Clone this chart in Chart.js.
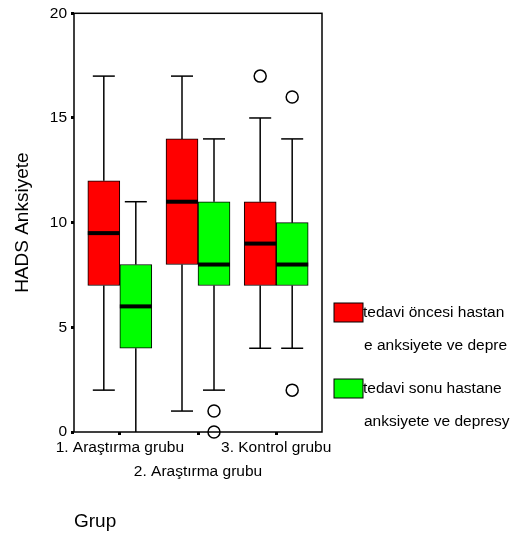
<!DOCTYPE html>
<html>
<head>
<meta charset="utf-8">
<script src="https://cdn.jsdelivr.net/npm/chart.js@4"></script>
<style>
  html, body { margin: 0; padding: 0; background: #fff; }
  #wrap { width: 524px; height: 545px; }
</style>
</head>
<body>
<div id="wrap"><canvas id="myChart" width="524" height="545"></canvas></div>
<script>
// groups on the x axis
const groups = ["1. Araştırma grubu", "2. Araştırma grubu", "3. Kontrol grubu"];
const legendLabels = [
  ["tedavi öncesi hastan", "e anksiyete ve depre"],
  ["tedavi sonu hastane", "anksiyete ve depresy"]
];

// before treatment (red)
const preMin = [2, 1, 4];
const preQ1 = [7, 8, 7];
const preMedian = [9.5, 11, 9];
const preQ3 = [12, 14, 11];
const preMax = [17, 17, 15];
const preOutliers = [[], [], [17]];

// after treatment (green)
const postMin = [0, 2, 4];
const postQ1 = [4, 7, 7];
const postMedian = [6, 8, 8];
const postQ3 = [8, 11, 10];
const postMax = [11, 14, 14];
const postOutliers = [[], [1, 0], [16, 2]];

const yTicks = [0, 5, 10, 15, 20];

const FONT = "Arial, 'Liberation Sans', sans-serif";

const boxStats = [
  { min: preMin, q1: preQ1, med: preMedian, q3: preQ3, max: preMax, out: preOutliers },
  { min: postMin, q1: postQ1, med: postMedian, q3: postQ3, max: postMax, out: postOutliers }
];

// whiskers, medians and outliers, placed from the bar elements and y scale
const boxExtras = {
  id: "boxExtras",
  beforeDatasetsDraw(chart) {
    const ctx = chart.ctx;
    const y = chart.scales.y;
    ctx.save();
    ctx.strokeStyle = "#000";
    ctx.lineWidth = 1.5;
    boxStats.forEach((s, di) => {
      chart.getDatasetMeta(di).data.forEach((bar, i) => {
        const x = bar.x;
        const segs = [[s.q3[i], s.max[i]], [s.q1[i], s.min[i]]];
        segs.forEach(([a, b]) => {
          ctx.beginPath();
          ctx.moveTo(x, y.getPixelForValue(a));
          ctx.lineTo(x, y.getPixelForValue(b));
          ctx.stroke();
          if (b > 0) {
            ctx.beginPath();
            ctx.moveTo(x - 11, y.getPixelForValue(b));
            ctx.lineTo(x + 11, y.getPixelForValue(b));
            ctx.stroke();
          }
        });
      });
    });
    ctx.restore();
  },
  afterDatasetsDraw(chart) {
    const ctx = chart.ctx;
    const y = chart.scales.y;
    ctx.save();
    boxStats.forEach((s, di) => {
      chart.getDatasetMeta(di).data.forEach((bar, i) => {
        const half = bar.width / 2;
        const my = y.getPixelForValue(s.med[i]);
        ctx.fillStyle = "#000";
        ctx.fillRect(bar.x - half, my - 2, half * 2, 4);
        s.out[i].forEach(v => {
          ctx.beginPath();
          ctx.arc(bar.x, y.getPixelForValue(v), 6, 0, Math.PI * 2);
          ctx.fillStyle = "#fff";
          ctx.fill();
          ctx.lineWidth = 1.5;
          ctx.strokeStyle = "#000";
          ctx.stroke();
        });
      });
    });
    // plot frame
    const a = chart.chartArea;
    ctx.lineWidth = 1.5;
    ctx.strokeStyle = "#000";
    ctx.strokeRect(a.left, a.top, a.right - a.left, a.bottom - a.top);
    ctx.restore();
  },
  afterDraw(chart) {
    // legend box at the right
    const ctx = chart.ctx;
    const colors = ["#ff0000", "#00ff00"];
    const tops = [303, 379];
    ctx.save();
    ctx.font = "15.5px " + FONT;
    ctx.textBaseline = "middle";
    legendLabels.forEach((lines, i) => {
      ctx.fillStyle = colors[i];
      ctx.fillRect(334, tops[i], 29, 19);
      ctx.strokeStyle = "#000";
      ctx.lineWidth = 1;
      ctx.strokeRect(334, tops[i], 29, 19);
      ctx.fillStyle = "#000";
      ctx.fillText(lines[0], 363, tops[i] + 10);
      ctx.fillText(lines[1], 364, tops[i] + 43);
    });
    ctx.restore();
  }
};

const ctx = document.getElementById("myChart").getContext("2d");

new Chart(ctx, {
  type: "bar",
  data: {
    datasets: [
      {
        label: legendLabels[0].join(""),
        data: groups.map((g, i) => ({ x: i + 1, y: [preQ1[i], preQ3[i]] })),
        backgroundColor: "#ff0000",
        borderColor: "#000",
        borderWidth: 1,
        borderSkipped: false
      },
      {
        label: legendLabels[1].join(""),
        data: groups.map((g, i) => ({ x: i + 1, y: [postQ1[i], postQ3[i]] })),
        backgroundColor: "#00ff00",
        borderColor: "#000",
        borderWidth: 1,
        borderSkipped: false
      }
    ]
  },
  options: {
    responsive: false,
    animation: false,
    barThickness: 32,
    layout: { padding: { top: 12, right: 202, left: 0, bottom: 0 } },
    plugins: {
      legend: { display: false },
      tooltip: { enabled: false }
    },
    scales: {
      x: {
        type: "linear",
        offset: false,
        min: 0.414,
        max: 3.586,
        afterBuildTicks: (scale) => {
          scale.ticks = groups.map((g, i) => ({ value: i + 1 }));
        },
        afterFit: (scale) => { scale.height = 113; },
        border: { display: false },
        grid: {
          offset: false,
          drawOnChartArea: false,
          tickLength: 3,
          tickWidth: 3,
          tickColor: "#000"
        },
        ticks: {
          autoSkip: false,
          maxRotation: 0,
          padding: 0,
          color: "#000",
          font: { family: FONT, size: 15.5, lineHeight: 1.6 },
          callback: (v, i) => (i === 1 ? ["", groups[i]] : groups[i])
        },
        title: {
          display: true,
          text: "Grup",
          align: "start",
          color: "#000",
          font: { family: FONT, size: 19 },
          padding: { top: 0, bottom: 12 }
        }
      },
      y: {
        min: 0,
        max: 20,
        afterBuildTicks: (scale) => {
          scale.ticks = yTicks.map(v => ({ value: v }));
        },
        afterFit: (scale) => { scale.width = 74; },
        border: { display: false },
        grid: {
          drawOnChartArea: false,
          tickLength: 3,
          tickWidth: 3,
          tickColor: "#000"
        },
        ticks: {
          padding: 4,
          color: "#000",
          font: { family: FONT, size: 15.5 }
        },
        title: {
          display: true,
          text: "HADS Anksiyete",
          color: "#000",
          font: { family: FONT, size: 19 },
          padding: { top: 11, bottom: 0 }
        }
      }
    }
  },
  plugins: [boxExtras]
});
</script>
</body>
</html>
